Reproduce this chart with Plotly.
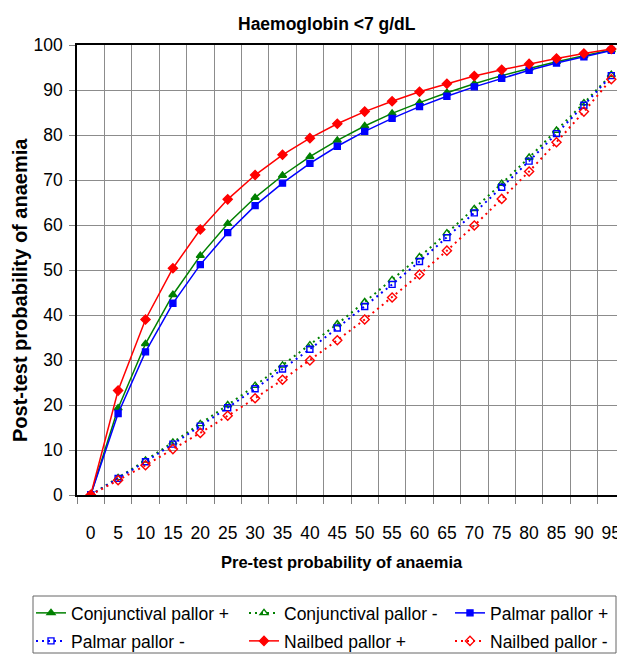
import plotly.graph_objects as go

pretest = ["0", "5", "10", "15", "20", "25", "30", "35", "40", "45",
           "50", "55", "60", "65", "70", "75", "80", "85", "90", "95"]

conj_pos = [0, 19.3, 33.6, 44.5, 53.2, 60.3, 66.1, 71.0, 75.2, 78.8,
            82.0, 84.8, 87.2, 89.4, 91.4, 93.2, 94.8, 96.3, 97.6, 98.9]
conj_neg = [0, 3.8, 7.7, 11.7, 15.8, 20.0, 24.3, 28.8, 33.3, 38.0,
            42.9, 47.8, 52.9, 58.2, 63.6, 69.2, 75.0, 81.0, 87.1, 93.4]
palm_pos = [0, 18.1, 31.8, 42.6, 51.2, 58.3, 64.3, 69.3, 73.7, 77.5,
            80.8, 83.7, 86.3, 88.6, 90.7, 92.6, 94.4, 96.0, 97.4, 98.8]
palm_neg = [0, 3.7, 7.4, 11.3, 15.3, 19.4, 23.6, 28.0, 32.4, 37.1,
            41.9, 46.8, 51.9, 57.2, 62.7, 68.4, 74.2, 80.3, 86.6, 93.2]
nail_pos = [0, 23.2, 39.0, 50.4, 59.0, 65.7, 71.1, 75.6, 79.3, 82.5,
            85.2, 87.5, 89.6, 91.4, 93.1, 94.5, 95.8, 97.0, 98.1, 99.1]
nail_neg = [0, 3.3, 6.6, 10.2, 13.8, 17.6, 21.5, 25.6, 29.9, 34.4,
            39.0, 43.9, 49.0, 54.3, 59.9, 65.8, 71.9, 78.4, 85.2, 92.4]

y_ticks = [0, 10, 20, 30, 40, 50, 60, 70, 80, 90, 100]

GREEN = "#008000"
BLUE = "#0000ff"
RED = "#ff0000"
FONT = "Liberation Sans, Arial, sans-serif"

# page body has an 8px margin; work in screen pixels and convert
OFF = 8
W, H = 625 - OFF, 656 - OFF
SL, ST = 77, 45          # plot area left/top in screen px
PW, PH = 548, 450
L, T = SL - OFF, ST - OFF


def px(x):
    return (x - SL) / PW


def py(y):
    return (ST + PH - y) / PH


# legend slot (legend x start, row centre y) in screen px
COLS = [31, 244, 450]
ROWS = [613, 641]

series = [
    ("Conjunctival pallor +", conj_pos, GREEN, "solid", "triangle-up", 7, 0, 0),
    ("Conjunctival pallor -", conj_neg, GREEN, "2px,4px", "triangle-up-open", 7, 1, 0),
    ("Palmar pallor +", palm_pos, BLUE, "solid", "square", 6, 2, 0),
    ("Palmar pallor -", palm_neg, BLUE, "2px,4px", "square-open", 6, 0, 1),
    ("Nailbed pallor +", nail_pos, RED, "solid", "diamond", 7, 1, 1),
    ("Nailbed pallor -", nail_neg, RED, "2px,4px", "diamond-open", 7, 2, 1),
]

fig = go.Figure()
legend_layouts = {}
for i, (name, vals, col, dash, sym, size, c, r) in enumerate(series):
    lg = "legend" if i == 0 else f"legend{i + 1}"
    fig.add_trace(go.Scatter(
        x=pretest, y=vals, name=name, mode="lines+markers", legend=lg,
        line=dict(color=col, width=1.5 if dash == "solid" else 2, dash=dash),
        marker=dict(color=col, symbol=sym, size=size, line=dict(color=col, width=1.4)),
    ))
    legend_layouts[lg] = dict(
        x=px(COLS[c]), y=py(ROWS[r]), xanchor="left", yanchor="middle",
        bgcolor="rgba(0,0,0,0)", borderwidth=0, itemwidth=30,
        font=dict(family=FONT, size=17.5, color="black"),
    )

fig.update_layout(
    width=W, height=H,
    margin=dict(l=L, r=W - L - PW, t=T, b=H - T - PH, pad=0, autoexpand=False),
    paper_bgcolor="white", plot_bgcolor="white",
    font=dict(family=FONT, color="black", size=17),
    showlegend=True,
    **legend_layouts,
    shapes=[dict(type="rect", xref="paper", yref="paper",
                 x0=px(33), x1=px(616), y0=py(653), y1=py(596),
                 line=dict(color="#666666", width=1), fillcolor="rgba(0,0,0,0)", layer="below")],
    annotations=[
        dict(text="<b>Haemoglobin <7 g/dL</b>", x=px(327), y=py(24), xref="paper", yref="paper",
             showarrow=False, font=dict(family=FONT, size=17.5), xanchor="center", yanchor="middle"),
        dict(text="<b>Pre-test probability of anaemia</b>", x=px(342), y=py(562), xref="paper", yref="paper",
             showarrow=False, font=dict(family=FONT, size=16.5), xanchor="center", yanchor="middle"),
        dict(text="<b>Post-test probability of anaemia</b>", x=px(20), y=py(290), xref="paper", yref="paper",
             showarrow=False, textangle=-90, font=dict(family=FONT, size=20), xanchor="center", yanchor="middle"),
    ],
)

fig.update_xaxes(
    type="category", categoryorder="array", categoryarray=pretest,
    tickson="boundaries", ticks="outside", ticklen=7, tickcolor="#808080",
    showgrid=True, gridcolor="#8c8c8c", gridwidth=1,
    showline=True, linecolor="black", linewidth=1.5, mirror=True,
    tickfont=dict(family=FONT, size=17.5), ticklabelstandoff=21, tickangle=0,
    range=[-0.5, 19.5], zeroline=False,
)
fig.update_yaxes(
    range=[0, 100], tickvals=y_ticks, ticktext=[str(v) for v in y_ticks],
    ticks="outside", ticklen=6, tickcolor="#808080",
    showgrid=True, gridcolor="#8c8c8c", gridwidth=1,
    showline=True, linecolor="black", linewidth=1.5,
    tickfont=dict(family=FONT, size=17.5), ticklabelstandoff=3, zeroline=False,
)

fig.write_html("out.html")
